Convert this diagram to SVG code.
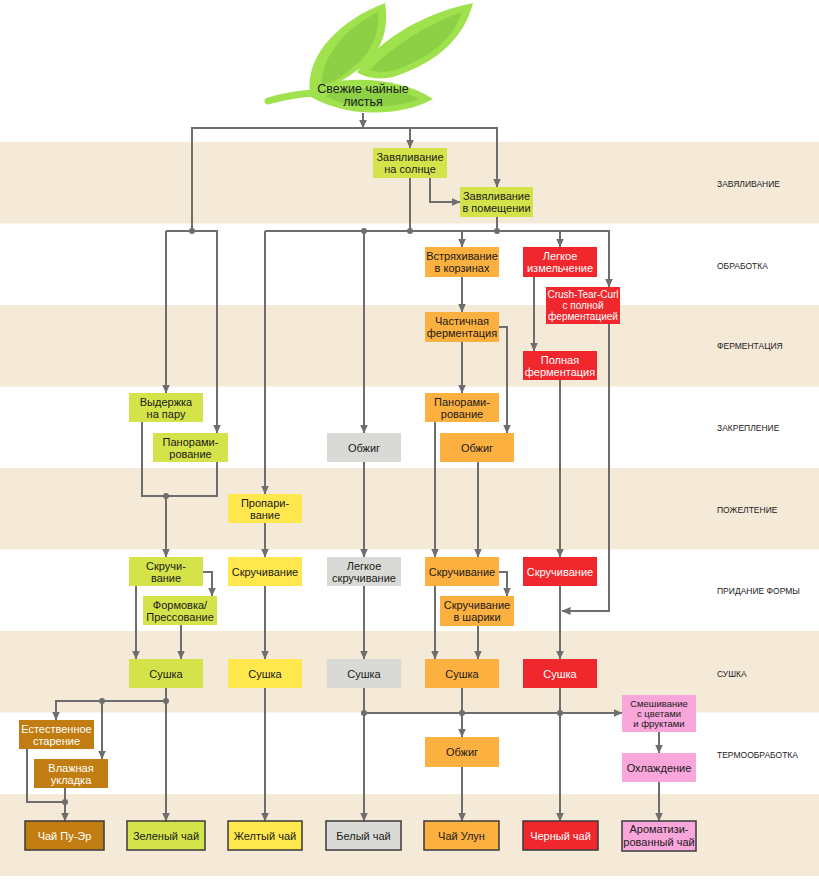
<svg xmlns="http://www.w3.org/2000/svg" width="819" height="880" viewBox="0 0 819 880">
<defs>
<marker id="ah" markerUnits="userSpaceOnUse" markerWidth="9" markerHeight="9" viewBox="0 0 9 9" refX="8.5" refY="4.5" orient="auto">
<path d="M0,0.5 L9,4.5 L0,8.5 Z" fill="#6e6e6e"/>
</marker>
<style>
.band{fill:#f5e9d7}
.ln{fill:none;stroke:#6e6e6e;stroke-width:2}
.a{marker-end:url(#ah)}
.dot{fill:#6e6e6e}
.t{font-family:"Liberation Sans",Arial,sans-serif;font-size:11px;text-anchor:middle;fill:#1a1a1a}
.s{font-size:10px}
.xs{font-size:9.5px}
.w{fill:#ffffff}
.lbl{font-family:"Liberation Sans",Arial,sans-serif;font-size:8.5px;fill:#222}
.gr{fill:#d4e34a}
.ye{fill:#ffe84e}
.gy{fill:#d9dad5}
.or{fill:#fcb040}
.rd{fill:#f0282d}
.br{fill:#c17d11}
.pk{fill:#f9a6da}
.fin{stroke:#3a3a3a;stroke-width:1.5}
.lo{fill:#a0e24e}
.li{fill:#8ed045}
</style>
</defs>
<g id="bands">
<rect class="band" x="0" y="142" width="819" height="81.5"/>
<rect class="band" x="0" y="305" width="819" height="81.5"/>
<rect class="band" x="0" y="468" width="819" height="81.5"/>
<rect class="band" x="0" y="631" width="819" height="81.5"/>
<rect class="band" x="0" y="794" width="819" height="82"/>
</g>
<g id="stage-labels">
<text class="lbl" x="717" y="187">ЗАВЯЛИВАНИЕ</text>
<text class="lbl" x="717" y="269">ОБРАБОТКА</text>
<text class="lbl" x="717" y="349">ФЕРМЕНТАЦИЯ</text>
<text class="lbl" x="717" y="431">ЗАКРЕПЛЕНИЕ</text>
<text class="lbl" x="717" y="513">ПОЖЕЛТЕНИЕ</text>
<text class="lbl" x="717" y="594">ПРИДАНИЕ ФОРМЫ</text>
<text class="lbl" x="717" y="677">СУШКА</text>
<text class="lbl" x="717" y="758">ТЕРМООБРАБОТКА</text>
</g>
<g id="leaves">
<path d="M268,101 C285,96 298,94 314,93" fill="none" stroke="#a0e24e" stroke-width="7" stroke-linecap="round"/>
<path class="lo" d="M310,93 C305,55 340,20 385,3 C390,30 380,55 360,68 C345,80 330,88 310,93 Z"/>
<path class="li" d="M322,86 C320,58 345,28 378,12 C380,35 370,55 352,68 C342,77 333,83 322,86 Z"/>
<path class="lo" d="M357,72 C375,45 415,15 473,3 C465,35 440,62 393,77 C380,80 365,78 357,72 Z"/>
<path class="li" d="M370,70 C390,48 425,25 462,12 C452,40 430,58 395,70 C385,73 376,72 370,70 Z"/>
<path class="lo" d="M305,93 C330,75 395,74 433,99 C400,118 340,118 305,93 Z"/>
<path class="li" d="M325,96 C350,84 395,86 420,99 C390,110 350,110 325,96 Z"/>
<text class="t" x="363" y="93" style="font-size:12.5px">Свежие чайные</text>
<text class="t" x="363" y="106" style="font-size:12.5px">листья</text>
</g>
<g id="connectors">
<path class="ln a" d="M363,113 V128"/>
<path class="ln a" d="M192,231 V128 H497 V187"/>
<path class="ln a" d="M410,128 V148"/>
<path class="ln a" d="M430,178 V202 H460"/>
<path class="ln" d="M410,178 V231"/>
<path class="ln" d="M497,217 V231"/>
<path class="ln a" d="M265,231 H609 V287"/>
<path class="ln a" d="M265,231 V494"/>
<path class="ln a" d="M364,231 V433"/>
<path class="ln a" d="M462,231 V247"/>
<path class="ln a" d="M560,231 V247"/>
<path class="ln a" d="M166,231 H217 V433"/>
<path class="ln a" d="M166,231 V393"/>
<path class="ln" d="M142,422 V496 H217 V462"/>
<path class="ln a" d="M166,496 V557"/>
<path class="ln a" d="M203,572 H212 V596"/>
<path class="ln a" d="M136,586 V659"/>
<path class="ln a" d="M181,625 V659"/>
<path class="ln a" d="M166,688 V821"/>
<path class="ln a" d="M166,701 H56 V720"/>
<path class="ln a" d="M102,701 V759"/>
<path class="ln" d="M27,749 V802 H65"/>
<path class="ln a" d="M65,788 V821"/>
<path class="ln a" d="M265,523 V557"/>
<path class="ln a" d="M265,586 V659"/>
<path class="ln a" d="M265,688 V821"/>
<path class="ln a" d="M364,462 V557"/>
<path class="ln a" d="M364,586 V659"/>
<path class="ln a" d="M364,688 V821"/>
<path class="ln a" d="M462,277 V312"/>
<path class="ln a" d="M462,342 V393"/>
<path class="ln a" d="M499,327 H507 V433"/>
<path class="ln a" d="M435,422 V557"/>
<path class="ln a" d="M478,462 V557"/>
<path class="ln a" d="M499,572 H507 V596"/>
<path class="ln a" d="M435,586 V659"/>
<path class="ln a" d="M478,626 V659"/>
<path class="ln a" d="M462,688 V737"/>
<path class="ln a" d="M462,767 V821"/>
<path class="ln a" d="M534,277 V351"/>
<path class="ln a" d="M560,380 V557"/>
<path class="ln a" d="M609,324 V611 H562"/>
<path class="ln a" d="M560,586 V659"/>
<path class="ln a" d="M560,688 V821"/>
<path class="ln a" d="M364,713 H622"/>
<path class="ln a" d="M659,732 V753"/>
<path class="ln a" d="M659,782 V821"/>
<circle class="dot" cx="192" cy="231" r="3"/>
<circle class="dot" cx="364" cy="231" r="3"/>
<circle class="dot" cx="410" cy="231" r="3"/>
<circle class="dot" cx="497" cy="231" r="3"/>
<circle class="dot" cx="166" cy="496" r="3"/>
<circle class="dot" cx="166" cy="701" r="3"/>
<circle class="dot" cx="102" cy="701" r="3"/>
<circle class="dot" cx="65" cy="802" r="3"/>
<circle class="dot" cx="364" cy="713" r="3"/>
<circle class="dot" cx="462" cy="713" r="3"/>
<circle class="dot" cx="560" cy="713" r="3"/>
</g>
<g id="wither-sun"><rect class="gr" x="373" y="148" width="74" height="30"/><text class="t" x="410" y="161">Завяливание</text><text class="t" x="410" y="173">на солнце</text></g>
<g id="wither-indoor"><rect class="gr" x="460" y="187" width="73" height="30"/><text class="t" x="496.5" y="200">Завяливание</text><text class="t" x="496.5" y="212">в  помещении</text></g>
<g id="steam"><rect class="gr" x="129" y="393" width="74" height="29"/><text class="t" x="166" y="405.5">Выдержка</text><text class="t" x="166" y="417.5">на пару</text></g>
<g id="pan-green"><rect class="gr" x="153" y="433" width="75" height="29"/><text class="t" x="190.5" y="445.5">Панорами-</text><text class="t" x="190.5" y="457.5">рование</text></g>
<g id="roll-green"><rect class="gr" x="129" y="557" width="74" height="29"/><text class="t" x="166" y="569.5">Скручи-</text><text class="t" x="166" y="581.5">вание</text></g>
<g id="press"><rect class="gr" x="143" y="596" width="74" height="29"/><text class="t" x="180" y="608.5">Формовка/</text><text class="t" x="180" y="620.5">Прессование</text></g>
<g id="dry-green"><rect class="gr" x="129" y="659" width="74" height="29"/><text class="t" x="166" y="677.5">Сушка</text></g>
<g id="aging"><rect class="br" x="19" y="720" width="75" height="29"/><text class="t w" x="56.5" y="732.5">Естественное</text><text class="t w" x="56.5" y="744.5">старение</text></g>
<g id="wet-pile"><rect class="br" x="34" y="759" width="74" height="29"/><text class="t w" x="71" y="771.5">Влажная</text><text class="t w" x="71" y="783.5">укладка</text></g>
<g id="steam-yellow"><rect class="ye" x="228" y="494" width="74" height="29"/><text class="t" x="265" y="506.5">Пропари-</text><text class="t" x="265" y="518.5">вание</text></g>
<g id="roll-yellow"><rect class="ye" x="228" y="557" width="74" height="29"/><text class="t" x="265" y="575.5">Скручивание</text></g>
<g id="dry-yellow"><rect class="ye" x="228" y="659" width="74" height="29"/><text class="t" x="265" y="677.5">Сушка</text></g>
<g id="roast-gray"><rect class="gy" x="327" y="433" width="74" height="29"/><text class="t" x="364" y="451.5">Обжиг</text></g>
<g id="light-roll"><rect class="gy" x="327" y="557" width="74" height="29"/><text class="t" x="364" y="569.5">Легкое</text><text class="t" x="364" y="581.5">скручивание</text></g>
<g id="dry-gray"><rect class="gy" x="327" y="659" width="74" height="29"/><text class="t" x="364" y="677.5">Сушка</text></g>
<g id="shake"><rect class="or" x="425" y="247" width="74" height="30"/><text class="t" x="462" y="260">Встряхивание</text><text class="t" x="462" y="272">в корзинах</text></g>
<g id="partial-ferm"><rect class="or" x="425" y="312" width="74" height="30"/><text class="t" x="462" y="325">Частичная</text><text class="t" x="462" y="337">ферментация</text></g>
<g id="pan-orange"><rect class="or" x="425" y="393" width="74" height="29"/><text class="t" x="462" y="405.5">Панорами-</text><text class="t" x="462" y="417.5">рование</text></g>
<g id="roast-orange"><rect class="or" x="440" y="433" width="74" height="29"/><text class="t" x="477" y="451.5">Обжиг</text></g>
<g id="roll-orange"><rect class="or" x="425" y="557" width="74" height="29"/><text class="t" x="462" y="575.5">Скручивание</text></g>
<g id="ball-roll"><rect class="or" x="440" y="596" width="74" height="30"/><text class="t" x="477" y="609">Скручивание</text><text class="t" x="477" y="621">в шарики</text></g>
<g id="dry-orange"><rect class="or" x="425" y="659" width="74" height="29"/><text class="t" x="462" y="677.5">Сушка</text></g>
<g id="roast-orange-2"><rect class="or" x="425" y="737" width="74" height="30"/><text class="t" x="462" y="756">Обжиг</text></g>
<g id="light-crush"><rect class="rd" x="523" y="247" width="74" height="30"/><text class="t w" x="560" y="260">Легкое</text><text class="t w" x="560" y="272">измельчение</text></g>
<g id="ctc"><rect class="rd" x="546" y="287" width="74" height="37"/><text class="t w s" x="583" y="297.5">Crush-Tear-Curl</text><text class="t w s" x="583" y="308.5">с полной</text><text class="t w s" x="583" y="319.5">ферментацией</text></g>
<g id="full-ferm"><rect class="rd" x="523" y="351" width="74" height="29"/><text class="t w" x="560" y="363.5">Полная</text><text class="t w" x="560" y="375.5">ферментация</text></g>
<g id="roll-red"><rect class="rd" x="523" y="557" width="74" height="29"/><text class="t w" x="560" y="575.5">Скручивание</text></g>
<g id="dry-red"><rect class="rd" x="523" y="659" width="74" height="29"/><text class="t w" x="560" y="677.5">Сушка</text></g>
<g id="blend"><rect class="pk" x="622" y="695" width="74" height="37"/><text class="t xs" x="659" y="706.5">Смешивание</text><text class="t xs" x="659" y="716.5">с цветами</text><text class="t xs" x="659" y="726.5">и фруктами</text></g>
<g id="cool"><rect class="pk" x="622" y="753" width="74" height="29"/><text class="t" x="659" y="771.5">Охлаждение</text></g>
<g id="tea-puer"><rect class="br fin" x="25" y="821" width="79" height="29"/><text class="t w" x="64.5" y="839.5">Чай Пу-Эр</text></g>
<g id="tea-green"><rect class="gr fin" x="127" y="821" width="78" height="29"/><text class="t" x="166" y="839.5">Зеленый чай</text></g>
<g id="tea-yellow"><rect class="ye fin" x="228" y="821" width="74" height="29"/><text class="t" x="265" y="839.5">Желтый чай</text></g>
<g id="tea-white"><rect class="gy fin" x="326" y="821" width="75" height="29"/><text class="t" x="363.5" y="839.5">Белый чай</text></g>
<g id="tea-oolong"><rect class="or fin" x="424" y="821" width="75" height="29"/><text class="t" x="461.5" y="839.5">Чай Улун</text></g>
<g id="tea-black"><rect class="rd fin" x="523" y="821" width="75" height="29"/><text class="t w" x="560.5" y="839.5">Черный чай</text></g>
<g id="tea-flavored"><rect class="pk fin" x="622" y="821" width="74" height="30"/><text class="t" x="659" y="833">Ароматизи-</text><text class="t" x="659" y="846">рованный чай</text></g>
</svg>
